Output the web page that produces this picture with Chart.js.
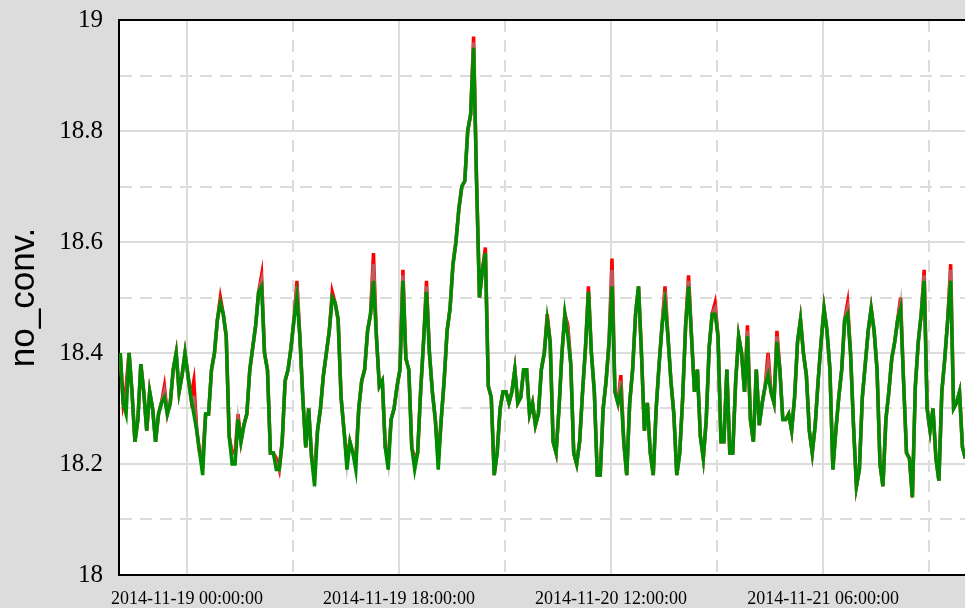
<!DOCTYPE html>
<html>
<head>
<meta charset="utf-8">
<script src="https://cdn.jsdelivr.net/npm/chart.js@4.4.1/dist/chart.umd.min.js"></script>
<style>
  html, body { margin: 0; padding: 0; background: #dcdcdc; }
  canvas { display: block; }
</style>
</head>
<body>
<canvas id="chart" width="965" height="608"></canvas>
<script>
// samples every 15 min, first one at 2014-11-18 18:20 (hours relative to 2014-11-19 00:00)
const START_HOUR = -17 / 3;
const STEP_HOURS = 0.25;

const greenValues = [
  18.40, 18.31, 18.29, 18.40, 18.33, 18.24, 18.28, 18.38, 18.33, 18.26,
  18.33, 18.30, 18.24, 18.29, 18.31, 18.32, 18.29, 18.31, 18.37, 18.40,
  18.33, 18.36, 18.40, 18.36, 18.32, 18.29, 18.26, 18.22, 18.18, 18.29,
  18.29, 18.37, 18.40, 18.46, 18.49, 18.47, 18.43, 18.25, 18.20, 18.20,
  18.28, 18.24, 18.27, 18.29, 18.37, 18.41, 18.45, 18.51, 18.52, 18.40,
  18.37, 18.22, 18.22, 18.19, 18.19, 18.24, 18.35, 18.37, 18.41, 18.46,
  18.50, 18.43, 18.32, 18.23, 18.30, 18.21, 18.16, 18.26, 18.30, 18.36,
  18.40, 18.44, 18.50, 18.49, 18.46, 18.32, 18.26, 18.19, 18.24, 18.22,
  18.19, 18.30, 18.35, 18.37, 18.44, 18.47, 18.53, 18.43, 18.34, 18.35,
  18.23, 18.19, 18.28, 18.30, 18.34, 18.37, 18.53, 18.39, 18.37, 18.23,
  18.19, 18.22, 18.33, 18.42, 18.51, 18.40, 18.33, 18.28, 18.19, 18.28,
  18.35, 18.44, 18.48, 18.56, 18.60, 18.66, 18.70, 18.71, 18.80, 18.83,
  18.95, 18.71, 18.50, 18.55, 18.58, 18.34, 18.32, 18.18, 18.22, 18.30,
  18.33, 18.33, 18.31, 18.33, 18.37, 18.31, 18.32, 18.37, 18.37, 18.29,
  18.31, 18.27, 18.29, 18.37, 18.40, 18.46, 18.42, 18.24, 18.22, 18.30,
  18.40, 18.47, 18.43, 18.38, 18.22, 18.20, 18.24, 18.33, 18.41, 18.51,
  18.40, 18.33, 18.18, 18.18, 18.30, 18.35, 18.42, 18.52, 18.33, 18.31,
  18.33, 18.24, 18.18, 18.31, 18.37, 18.47, 18.52, 18.40, 18.26, 18.31,
  18.22, 18.18, 18.30, 18.38, 18.45, 18.49, 18.43, 18.35, 18.29, 18.18,
  18.22, 18.32, 18.45, 18.52, 18.43, 18.33, 18.37, 18.25, 18.21, 18.28,
  18.41, 18.47, 18.47, 18.43, 18.24, 18.24, 18.37, 18.22, 18.22, 18.35,
  18.43, 18.40, 18.33, 18.43, 18.28, 18.24, 18.37, 18.27, 18.31, 18.34,
  18.36, 18.33, 18.31, 18.42, 18.37, 18.28, 18.28, 18.29, 18.26, 18.32,
  18.42, 18.46, 18.40, 18.36, 18.26, 18.22, 18.27, 18.35, 18.42, 18.48,
  18.44, 18.37, 18.19, 18.26, 18.32, 18.37, 18.46, 18.47, 18.40, 18.27,
  18.16, 18.19, 18.32, 18.38, 18.44, 18.48, 18.44, 18.37, 18.20, 18.16,
  18.28, 18.33, 18.39, 18.42, 18.46, 18.48, 18.35, 18.22, 18.21, 18.14,
  18.34, 18.42, 18.47, 18.53, 18.30, 18.26, 18.30, 18.21, 18.17, 18.33,
  18.39, 18.46, 18.53, 18.30, 18.31, 18.33, 18.23, 18.21
];

const greyValues = [
  18.40, 18.31, 18.32, 18.40, 18.33, 18.24, 18.28, 18.38, 18.33, 18.26,
  18.33, 18.30, 18.24, 18.29, 18.31, 18.33, 18.29, 18.31, 18.37, 18.40,
  18.33, 18.36, 18.40, 18.36, 18.32, 18.32, 18.26, 18.22, 18.20, 18.29,
  18.29, 18.37, 18.40, 18.46, 18.49, 18.47, 18.43, 18.25, 18.21, 18.21,
  18.28, 18.24, 18.27, 18.29, 18.37, 18.41, 18.45, 18.51, 18.53, 18.40,
  18.37, 18.22, 18.22, 18.20, 18.19, 18.24, 18.35, 18.37, 18.41, 18.46,
  18.52, 18.43, 18.32, 18.23, 18.30, 18.21, 18.18, 18.26, 18.30, 18.36,
  18.40, 18.44, 18.50, 18.49, 18.46, 18.32, 18.26, 18.20, 18.24, 18.22,
  18.20, 18.30, 18.35, 18.37, 18.44, 18.47, 18.56, 18.43, 18.34, 18.35,
  18.23, 18.20, 18.28, 18.30, 18.34, 18.37, 18.54, 18.39, 18.37, 18.23,
  18.20, 18.22, 18.33, 18.42, 18.52, 18.40, 18.33, 18.28, 18.20, 18.28,
  18.35, 18.44, 18.48, 18.56, 18.60, 18.66, 18.70, 18.71, 18.80, 18.83,
  18.96, 18.71, 18.50, 18.55, 18.58, 18.34, 18.32, 18.18, 18.22, 18.30,
  18.33, 18.33, 18.31, 18.33, 18.37, 18.31, 18.32, 18.37, 18.37, 18.29,
  18.31, 18.27, 18.29, 18.37, 18.40, 18.46, 18.42, 18.24, 18.22, 18.30,
  18.40, 18.47, 18.44, 18.38, 18.22, 18.20, 18.24, 18.33, 18.41, 18.51,
  18.40, 18.33, 18.18, 18.18, 18.30, 18.35, 18.42, 18.55, 18.33, 18.31,
  18.35, 18.24, 18.18, 18.31, 18.37, 18.47, 18.52, 18.40, 18.26, 18.31,
  18.22, 18.18, 18.30, 18.38, 18.45, 18.51, 18.43, 18.35, 18.29, 18.18,
  18.22, 18.32, 18.45, 18.53, 18.43, 18.33, 18.37, 18.25, 18.21, 18.28,
  18.41, 18.47, 18.48, 18.43, 18.24, 18.24, 18.37, 18.22, 18.22, 18.35,
  18.43, 18.40, 18.33, 18.44, 18.28, 18.24, 18.37, 18.27, 18.31, 18.34,
  18.38, 18.33, 18.31, 18.43, 18.37, 18.28, 18.28, 18.29, 18.26, 18.32,
  18.42, 18.46, 18.40, 18.36, 18.26, 18.22, 18.27, 18.35, 18.42, 18.48,
  18.44, 18.37, 18.19, 18.26, 18.32, 18.37, 18.46, 18.48, 18.40, 18.27,
  18.16, 18.19, 18.32, 18.38, 18.44, 18.48, 18.44, 18.37, 18.20, 18.16,
  18.28, 18.33, 18.39, 18.42, 18.46, 18.49, 18.35, 18.22, 18.21, 18.14,
  18.34, 18.42, 18.47, 18.54, 18.30, 18.26, 18.30, 18.21, 18.17, 18.33,
  18.39, 18.46, 18.55, 18.30, 18.31, 18.33, 18.23, 18.21
];

const redValues = [
  18.40, 18.31, 18.34, 18.40, 18.33, 18.24, 18.28, 18.38, 18.33, 18.26,
  18.33, 18.30, 18.24, 18.29, 18.31, 18.34, 18.29, 18.31, 18.37, 18.40,
  18.33, 18.36, 18.40, 18.36, 18.32, 18.35, 18.26, 18.22, 18.21, 18.29,
  18.29, 18.37, 18.40, 18.46, 18.50, 18.47, 18.43, 18.25, 18.22, 18.22,
  18.29, 18.24, 18.27, 18.29, 18.37, 18.41, 18.45, 18.51, 18.54, 18.40,
  18.37, 18.22, 18.22, 18.21, 18.19, 18.24, 18.35, 18.37, 18.41, 18.46,
  18.53, 18.43, 18.32, 18.23, 18.30, 18.21, 18.19, 18.26, 18.30, 18.36,
  18.40, 18.44, 18.51, 18.49, 18.46, 18.32, 18.26, 18.21, 18.24, 18.22,
  18.21, 18.30, 18.35, 18.37, 18.44, 18.47, 18.58, 18.43, 18.34, 18.35,
  18.23, 18.21, 18.28, 18.30, 18.34, 18.37, 18.55, 18.39, 18.37, 18.23,
  18.21, 18.22, 18.33, 18.42, 18.53, 18.40, 18.33, 18.28, 18.21, 18.28,
  18.35, 18.44, 18.48, 18.56, 18.60, 18.66, 18.70, 18.71, 18.80, 18.83,
  18.97, 18.71, 18.50, 18.55, 18.59, 18.34, 18.32, 18.18, 18.22, 18.30,
  18.33, 18.33, 18.31, 18.33, 18.37, 18.31, 18.32, 18.37, 18.37, 18.29,
  18.31, 18.27, 18.29, 18.37, 18.40, 18.47, 18.42, 18.24, 18.22, 18.30,
  18.40, 18.47, 18.45, 18.38, 18.22, 18.20, 18.24, 18.33, 18.41, 18.52,
  18.40, 18.33, 18.18, 18.18, 18.30, 18.35, 18.42, 18.57, 18.33, 18.31,
  18.36, 18.24, 18.18, 18.31, 18.37, 18.47, 18.52, 18.40, 18.26, 18.31,
  18.22, 18.18, 18.30, 18.38, 18.45, 18.52, 18.43, 18.35, 18.29, 18.18,
  18.22, 18.32, 18.45, 18.54, 18.43, 18.33, 18.37, 18.25, 18.21, 18.28,
  18.41, 18.47, 18.49, 18.43, 18.24, 18.24, 18.37, 18.22, 18.22, 18.35,
  18.43, 18.40, 18.33, 18.45, 18.28, 18.24, 18.37, 18.27, 18.31, 18.34,
  18.40, 18.33, 18.31, 18.44, 18.37, 18.28, 18.28, 18.29, 18.26, 18.32,
  18.42, 18.46, 18.40, 18.36, 18.26, 18.22, 18.27, 18.35, 18.42, 18.48,
  18.44, 18.37, 18.19, 18.26, 18.32, 18.37, 18.46, 18.49, 18.40, 18.27,
  18.16, 18.19, 18.32, 18.38, 18.44, 18.48, 18.44, 18.37, 18.20, 18.16,
  18.28, 18.33, 18.39, 18.42, 18.46, 18.50, 18.35, 18.22, 18.21, 18.14,
  18.34, 18.42, 18.47, 18.55, 18.30, 18.26, 18.30, 18.21, 18.17, 18.33,
  18.39, 18.46, 18.56, 18.30, 18.31, 18.33, 18.23, 18.21
];

// axis window (hours from 2014-11-19 00:00)
const X_MIN = -5.77;
const X_MAX = 66.05;
const Y_MIN = 18;
const Y_MAX = 19;
const Y_TITLE = 'no_conv.';

const toPoints = values => values.map((v, i) => ({ x: START_HOUR + i * STEP_HOURS, y: v }));

function pad2(n) { return String(n).padStart(2, '0'); }

function formatHour(h) {
  const d = new Date(Date.UTC(2014, 10, 19) + Math.round(h * 3600000));
  return d.getUTCFullYear() + '-' + pad2(d.getUTCMonth() + 1) + '-' + pad2(d.getUTCDate()) +
    ' ' + pad2(d.getUTCHours()) + ':' + pad2(d.getUTCMinutes()) + ':' + pad2(d.getUTCSeconds());
}

const isMajorX = v => Math.round(v) % 18 === 0;
const isMajorY = v => Math.round(v * 10) % 2 === 0;

const plotBackground = {
  id: 'plotBackground',
  beforeDraw(chart) {
    const { ctx, chartArea: a } = chart;
    ctx.save();
    ctx.fillStyle = '#ffffff';
    ctx.fillRect(a.left, a.top, a.right - a.left, a.bottom - a.top);
    ctx.restore();
  }
};

const serif = '"Liberation Serif", "Times New Roman", serif';

new Chart(document.getElementById('chart'), {
  type: 'line',
  data: {
    datasets: [
      { data: toPoints(greenValues), borderColor: 'rgb(0,140,0)', borderWidth: 3.5 },
      { data: toPoints(greyValues), borderColor: 'rgba(150,150,150,0.6)', borderWidth: 3.5 },
      { data: toPoints(redValues), borderColor: '#ff0000', borderWidth: 3.5 }
    ]
  },
  options: {
    responsive: false,
    animation: false,
    devicePixelRatio: 1,
    layout: { padding: 0 },
    elements: { point: { radius: 0 }, line: { tension: 0 } },
    plugins: { legend: { display: false }, tooltip: { enabled: false } },
    scales: {
      x: {
        type: 'linear',
        min: X_MIN,
        max: X_MAX,
        grid: { color: '#dcdcdc', lineWidth: 2, drawTicks: false },
        border: { color: '#000', width: 2, dash: ctx => (ctx.tick && !isMajorX(ctx.tick.value)) ? [12, 8] : [] },
        ticks: {
          stepSize: 9,
          includeBounds: false,
          autoSkip: false,
          maxRotation: 0,
          minRotation: 0,
          padding: 13,
          color: '#000',
          font: { family: serif, size: 18 },
          callback: v => isMajorX(v) ? formatHour(v) : ''
        },
        afterFit: s => { s.height = 33; }
      },
      y: {
        min: Y_MIN,
        max: Y_MAX,
        grid: {
          color: ctx => (ctx.tick && ctx.tick.value > Y_MAX - 0.001) ? '#000' : '#dcdcdc',
          lineWidth: 2,
          drawTicks: false
        },
        border: { color: '#000', width: 2, dash: ctx => (ctx.tick && !isMajorY(ctx.tick.value)) ? [12, 8] : [] },
        ticks: {
          stepSize: 0.1,
          padding: 16,
          color: '#000',
          font: { family: serif, size: 25 },
          callback: v => isMajorY(v) ? String(Math.round(v * 10) / 10) : ''
        },
        title: {
          display: true,
          text: Y_TITLE,
          color: '#000',
          font: { family: '"Liberation Sans", Arial, sans-serif', size: 35 },
          padding: { top: 3, bottom: 0 }
        },
        afterFit: s => { s.width = 119; s.paddingTop = 20; s.paddingBottom = 0; }
      }
    }
  },
  plugins: [plotBackground]
});
</script>
</body>
</html>
